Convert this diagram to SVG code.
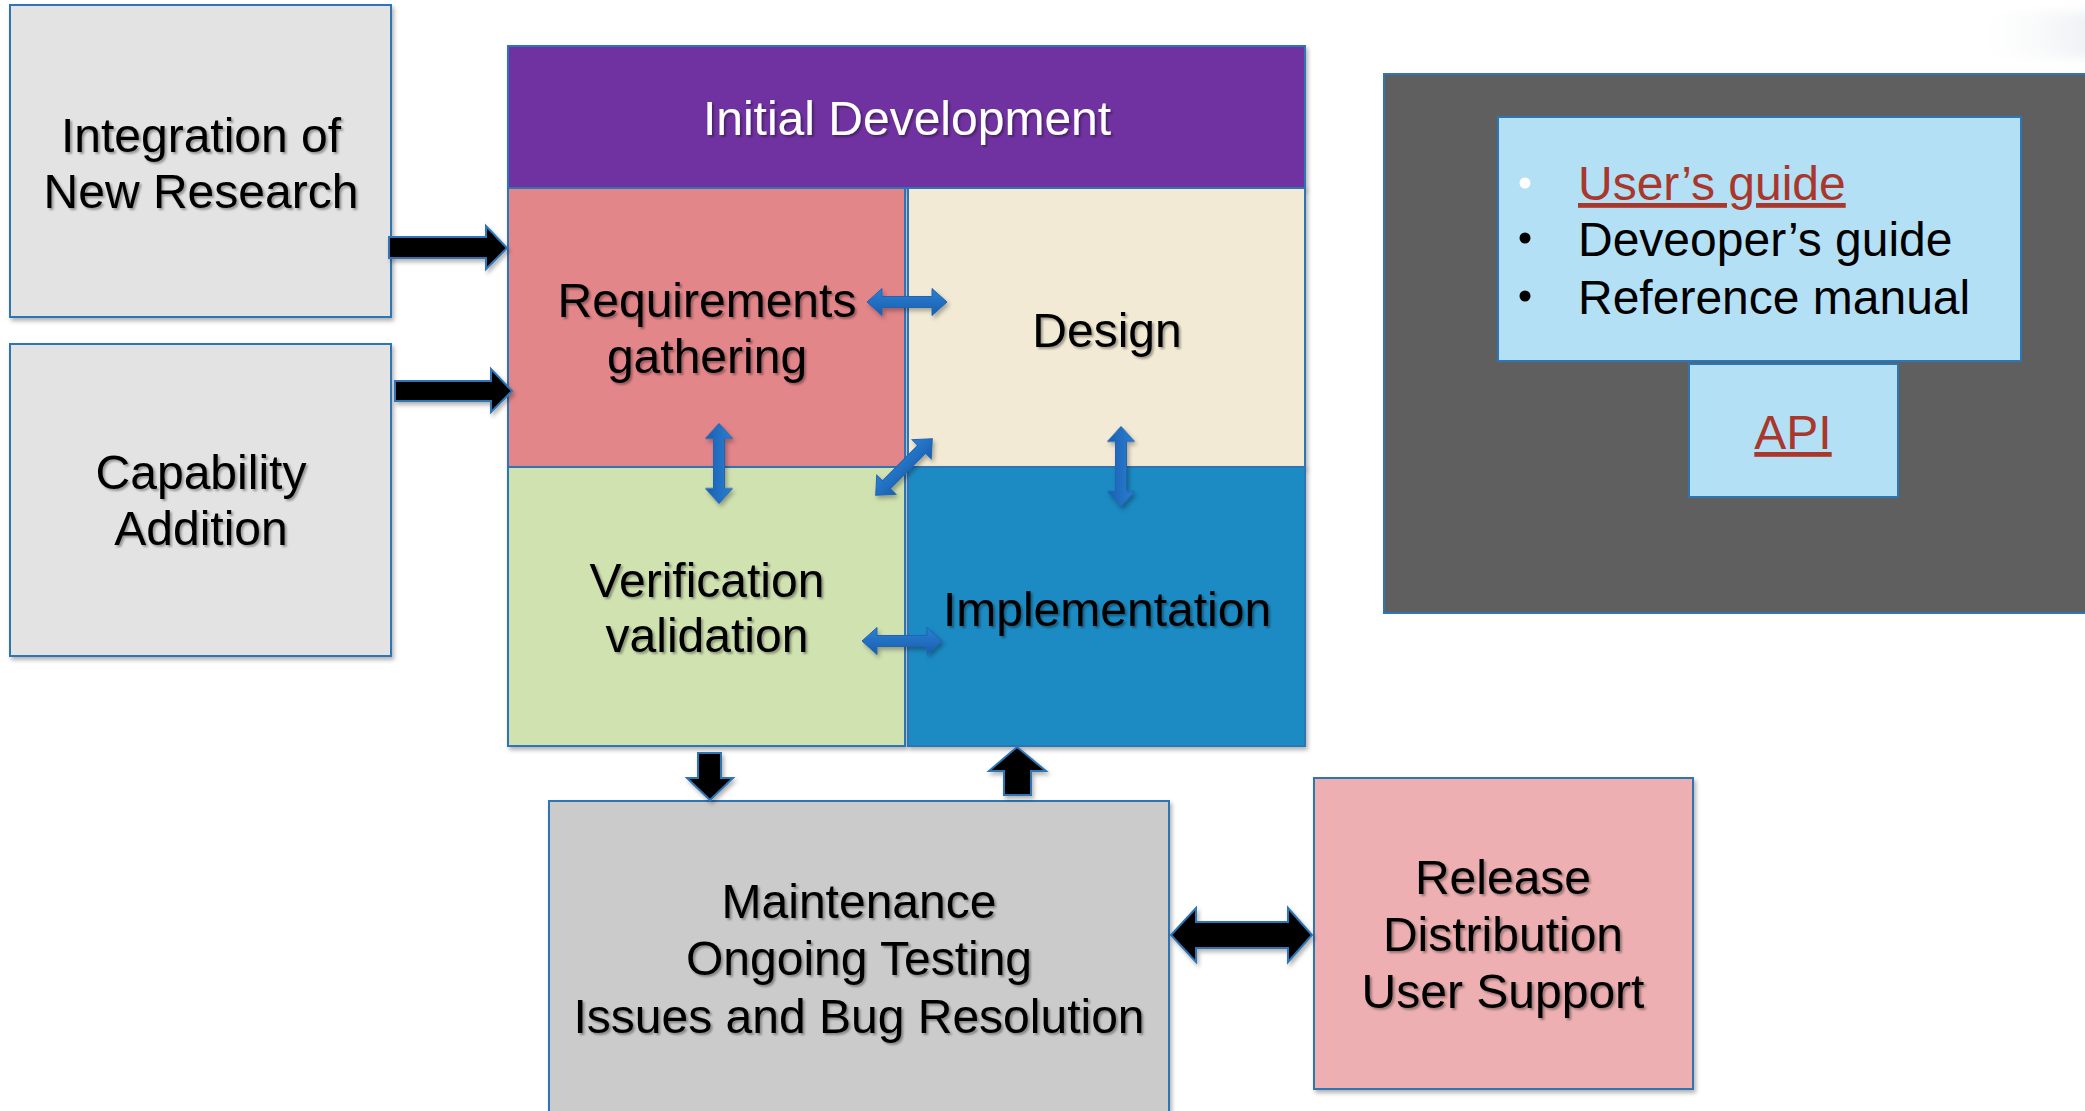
<svg xmlns="http://www.w3.org/2000/svg" xmlns:xlink="http://www.w3.org/1999/xlink" width="2085" height="1111" viewBox="0 0 2085 1111">
  <defs>
    <style>
      .box { stroke: #2E75B6; stroke-width: 2; }
      .lbl { font-family: "Liberation Sans", Arial, sans-serif; font-size: 48px; fill: #000; text-anchor: middle; }
      .list { font-family: "Liberation Sans", Arial, sans-serif; font-size: 48px; fill: #000; }
      .link { fill: #A9372B; text-decoration: underline; }
      .bigarrow { fill: #000; stroke: #2E75B6; stroke-width: 2; stroke-linejoin: miter; }
    </style>
    <filter id="boxShadow" x="-5%" y="-5%" width="115%" height="115%">
      <feDropShadow dx="2" dy="3" stdDeviation="2" flood-color="#000" flood-opacity="0.3"/>
    </filter>
    <filter id="textShadow" x="-5%" y="-20%" width="115%" height="150%">
      <feDropShadow dx="2" dy="2" stdDeviation="1.3" flood-color="#000" flood-opacity="0.35"/>
    </filter>
    <filter id="soft" x="-20%" y="-50%" width="140%" height="200%">
      <feGaussianBlur stdDeviation="6"/>
    </filter>
    <linearGradient id="blueArrowFill" x1="0" y1="0" x2="0" y2="1">
      <stop offset="0" stop-color="#2A80D4"/>
      <stop offset="1" stop-color="#1A5EAE"/>
    </linearGradient>
    <linearGradient id="haze" x1="0" y1="0" x2="1" y2="0">
      <stop offset="0" stop-color="#FFFFFF" stop-opacity="0"/>
      <stop offset="1" stop-color="#ECEEF2" stop-opacity="1"/>
    </linearGradient>
    <!-- small two-headed arrow, centred on the origin, pointing along x -->
    <path id="dblArrow" d="M-40,0 L-25,-13.5 L-25,-5.5 L25,-5.5 L25,-13.5 L40,0 L25,13.5 L25,5.5 L-25,5.5 L-25,13.5 Z"/>
  </defs>

  <rect width="2085" height="1111" fill="#FFFFFF"/>
  <rect x="1960" y="12" width="140" height="46" fill="url(#haze)" filter="url(#soft)"/>

  <!-- inputs on the left -->
  <g id="integration">
    <rect class="box" x="10" y="5" width="381" height="312" fill="#E3E3E3" filter="url(#boxShadow)"/>
    <g class="lbl" filter="url(#textShadow)">
      <text x="201" y="152">Integration of</text>
      <text x="201" y="208">New Research</text>
    </g>
  </g>

  <g id="capability">
    <rect class="box" x="10" y="344" width="381" height="312" fill="#E3E3E3" filter="url(#boxShadow)"/>
    <g class="lbl" filter="url(#textShadow)">
      <text x="201" y="489">Capability</text>
      <text x="201" y="545">Addition</text>
    </g>
  </g>

  <!-- initial development block -->
  <g id="initial-development">
    <rect class="box" x="508" y="46" width="797" height="142" fill="#7030A0" filter="url(#boxShadow)"/>
    <text class="lbl" x="907" y="135" style="fill:#FFFFFF" filter="url(#textShadow)">Initial Development</text>
  </g>

  <g id="requirements">
    <rect class="box" x="508" y="188" width="397" height="279" fill="#E3868A" filter="url(#boxShadow)"/>
    <g class="lbl" filter="url(#textShadow)">
      <text x="707" y="317">Requirements</text>
      <text x="707" y="373">gathering</text>
    </g>
  </g>

  <g id="design">
    <rect class="box" x="908" y="188" width="397" height="279" fill="#F2EAD4" filter="url(#boxShadow)"/>
    <text class="lbl" x="1107" y="347" filter="url(#textShadow)">Design</text>
  </g>

  <g id="verification">
    <rect class="box" x="508" y="467" width="397" height="279" fill="#D1E2B1" filter="url(#boxShadow)"/>
    <g class="lbl" filter="url(#textShadow)">
      <text x="707" y="597">Verification</text>
      <text x="707" y="652">validation</text>
    </g>
  </g>

  <g id="implementation">
    <rect class="box" x="908" y="467" width="397" height="279" fill="#1E8BC3" filter="url(#boxShadow)"/>
    <text class="lbl" x="1107" y="626" filter="url(#textShadow)">Implementation</text>
  </g>

  <!-- documentation panel -->
  <g id="documentation">
    <rect class="box" x="1384" y="74" width="710" height="539" fill="#5F5F5F"/>
  </g>

  <g id="guides">
    <rect class="box" x="1498" y="117" width="523" height="244" fill="#B4E0F5"/>
    <circle cx="1525" cy="183" r="5.5" fill="#FFFFFF"/>
    <circle cx="1525" cy="238" r="5.5" fill="#000000"/>
    <circle cx="1525" cy="296" r="5.5" fill="#000000"/>
    <text class="list link" x="1578" y="200">User’s guide</text>
    <text class="list" x="1578" y="256">Deveoper’s guide</text>
    <text class="list" x="1578" y="314">Reference manual</text>
  </g>

  <g id="api">
    <rect class="box" x="1689" y="364" width="209" height="133" fill="#B4E0F5"/>
    <text class="list link" x="1793" y="449" text-anchor="middle">API</text>
  </g>

  <!-- lower row -->
  <g id="maintenance">
    <rect class="box" x="549" y="801" width="620" height="330" fill="#CBCBCB" filter="url(#boxShadow)"/>
    <g class="lbl" filter="url(#textShadow)">
      <text x="859" y="918">Maintenance</text>
      <text x="859" y="975">Ongoing Testing</text>
      <text x="859" y="1033">Issues and Bug Resolution</text>
    </g>
  </g>

  <g id="release">
    <rect class="box" x="1314" y="778" width="379" height="311" fill="#EDAFB1" filter="url(#boxShadow)"/>
    <g class="lbl" filter="url(#textShadow)">
      <text x="1503" y="894">Release</text>
      <text x="1503" y="951">Distribution</text>
      <text x="1503" y="1008">User Support</text>
    </g>
  </g>

  <!-- connectors -->
  <g id="connectors">
    <g filter="url(#boxShadow)">
      <polygon class="bigarrow" points="389,237 486,237 486,226 507,248 486,269 486,258 389,258"/>
      <polygon class="bigarrow" points="395,381 491,381 491,369 512,391 491,412 491,401 395,401"/>
      <polygon class="bigarrow" points="698,753 721,753 721,778 733,778 710,800 687,778 698,778"/>
      <polygon class="bigarrow" points="1017,747 1046,771 1031,771 1031,795 1004,795 1004,771 989,771"/>
      <polygon class="bigarrow" points="1171,935 1196,908 1196,922 1288,922 1288,908 1312,935 1288,962 1288,948 1196,948 1196,962"/>
    </g>
    <g fill="url(#blueArrowFill)" stroke="#2164B3" stroke-width="1" filter="url(#boxShadow)">
      <use xlink:href="#dblArrow" transform="translate(907,302)"/>
      <use xlink:href="#dblArrow" transform="translate(719,463.5) rotate(90)"/>
      <use xlink:href="#dblArrow" transform="translate(904,467) rotate(-45)"/>
      <use xlink:href="#dblArrow" transform="translate(1121,466.5) rotate(90)"/>
      <use xlink:href="#dblArrow" transform="translate(902,641)"/>
    </g>
  </g>
</svg>
